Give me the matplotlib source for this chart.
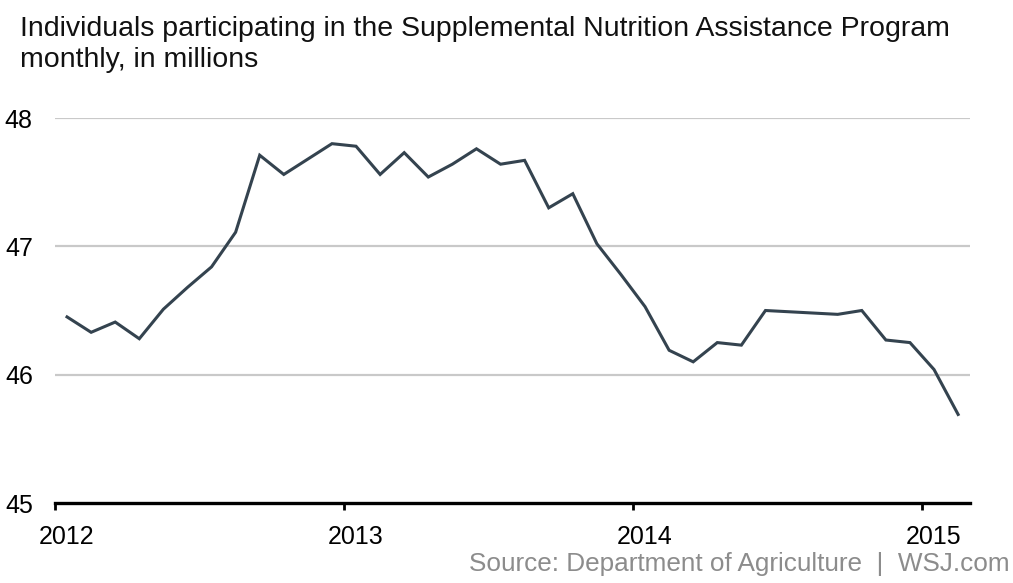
import matplotlib
matplotlib.use('Agg')
import matplotlib.pyplot as plt
import matplotlib.transforms as mtransforms

plt.rcParams['font.family'] = ['Liberation Sans', 'DejaVu Sans']

# SNAP participation, monthly, in millions (Jan 2012 - Feb 2015)
participants = [
    46.45, 46.33, 46.41, 46.28, 46.51, 46.68, 46.84, 47.11, 47.71, 47.56, 47.68, 47.80,  # 2012
    47.78, 47.56, 47.73, 47.54, 47.64, 47.76, 47.64, 47.67, 47.30, 47.41, 47.02, 46.78,  # 2013
    46.53, 46.19, 46.10, 46.25, 46.23, 46.50, 46.49, 46.48, 46.47, 46.50, 46.27, 46.25,  # 2014
    46.04, 45.69,                                                                        # 2015
]
start_year = 2012
year_ticks = [2012, 2013, 2014, 2015]
y_ticks = [45, 46, 47, 48]

title_lines = ['Individuals participating in the Supplemental Nutrition Assistance Program',
               'monthly, in millions']
source = 'Source: Department of Agriculture  |  WSJ.com'

# month midpoints as fractional years
x = [start_year + (i + 0.5) / 12 for i in range(len(participants))]

W, H = 1013, 583
fig = plt.figure(figsize=(W / 100, H / 100), dpi=100)
ax = fig.add_axes([55 / W, 80 / H, 915 / W, 385 / H])

for y in y_ticks[1:]:
    ax.axhline(y, color='#c9c9c9', lw=1.6, zorder=1)

ax.plot(x, participants, color='#34434f', lw=2.2, solid_joinstyle='miter', zorder=3)

ax.set_xlim(2012, 2012 + 915 / 289)
ax.set_ylim(45, 48)

for s in ['top', 'right', 'left']:
    ax.spines[s].set_visible(False)
ax.spines['bottom'].set_linewidth(2.4)
ax.spines['bottom'].set_color('black')

ax.set_xticks(year_ticks)
ax.set_xticklabels([str(yr) for yr in year_ticks])
ax.set_yticks(y_ticks)
ax.tick_params(axis='x', length=5, width=2, direction='out', pad=11, labelsize=18, colors='black')
ax.tick_params(axis='y', length=0, pad=16, labelsize=18, colors='black')

# year labels sit a little to the right of their ticks
shift = mtransforms.ScaledTranslation(12 / 100, 0, fig.dpi_scale_trans)
for lbl in ax.get_xticklabels():
    lbl.set_transform(lbl.get_transform() + shift)

fig.text(20 / W, 1 - 36 / H, title_lines[0], fontsize=20.5, ha='left', va='baseline', color='#111111')
fig.text(20 / W, 1 - 67 / H, title_lines[1], fontsize=20.5, ha='left', va='baseline', color='#111111')
fig.text(1010 / W, 1 - 571 / H, source, fontsize=18.8, ha='right', va='baseline', color='#8c8c8c')

fig.savefig('out.png', dpi=100)
